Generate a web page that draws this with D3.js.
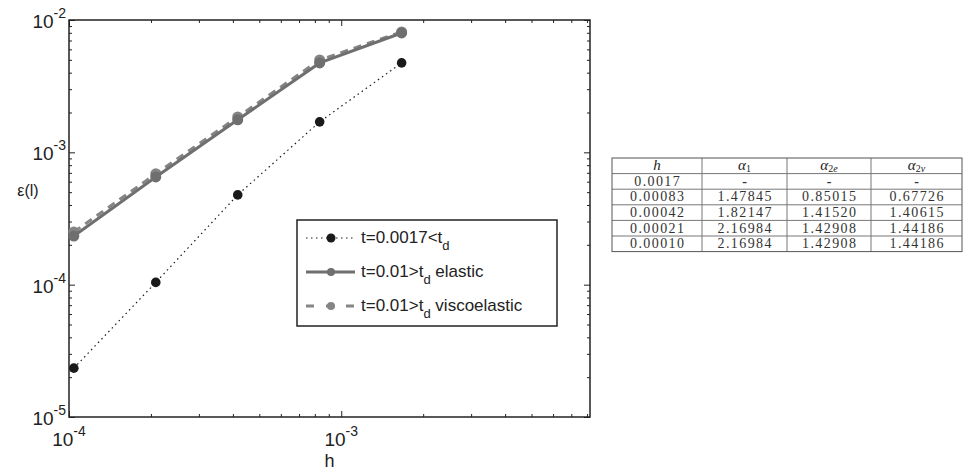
<!DOCTYPE html>
<html><head><meta charset="utf-8">
<script src="https://cdn.jsdelivr.net/npm/d3@7"></script>
<style>body{margin:0;background:#fff}svg{display:block}</style>
</head><body>
<svg id="c" width="966" height="470"></svg>
<script>
// ---- data ----
const hValues = [1/9600, 1/4800, 1/2400, 1/1200, 1/600];
const errSmallT = [2.34e-5, 1.04e-4, 4.77e-4, 1.70e-3, 4.74e-3];
const errElastic = [2.33e-4, 6.52e-4, 1.76e-3, 4.74e-3, 7.98e-3];
const errVisco = [2.50e-4, 6.88e-4, 1.85e-3, 4.99e-3, 8.13e-3];
const seriesNames = ["t=0.0017<t", "t=0.01>t", "t=0.01>t"];
const seriesSuffix = ["", " elastic", " viscoelastic"];
const xDomain = [1e-4, 8.2e-3];
const yDomain = [1e-5, 1e-2];
const xMajor = [1e-4, 1e-3];
const yMajor = [1e-5, 1e-4, 1e-3, 1e-2];
const tableHeader = [["h", ""], ["α", "1"], ["α", "2e"], ["α", "2v"]];
const tableH = ["0.0017", "0.00083", "0.00042", "0.00021", "0.00010"];
const tableA1 = ["-", "1.47845", "1.82147", "2.16984", "2.16984"];
const tableA2e = ["-", "0.85015", "1.41520", "1.42908", "1.42908"];
const tableA2v = ["-", "0.67726", "1.40615", "1.44186", "1.44186"];

const svg = d3.select("#c");
const L = 69, R = 590, T = 20, B = 417;
const x = d3.scaleLog().domain(xDomain).range([L, R]);
const y = d3.scaleLog().domain(yDomain).range([B, T]);
const sans = "'Liberation Sans', Arial, Helvetica, sans-serif";

function minors(domain) {
  const out = [];
  for (let e = -6; e <= -1; e++) for (let m = 2; m <= 9; m++) {
    const v = m * Math.pow(10, e);
    if (v > domain[0] * 1.0001 && v < domain[1] * 0.9999) out.push(v);
  }
  return out;
}
const xMin = minors(xDomain), yMin = minors(yDomain);

function ax(gen, vals, size, tr) {
  const g = svg.append("g").attr("transform", tr)
    .call(gen.tickValues(vals).tickSizeInner(size).tickSizeOuter(0).tickFormat(""));
  g.select(".domain").remove();
  g.selectAll("line").attr("stroke", "#222").attr("stroke-width", 1);
  return g;
}
ax(d3.axisBottom(x), xMin, -3, `translate(0,${B})`);
ax(d3.axisBottom(x), xMajor, -6, `translate(0,${B})`);
ax(d3.axisTop(x), xMin, -3, `translate(0,${T})`);
ax(d3.axisTop(x), xMajor, -6, `translate(0,${T})`);
ax(d3.axisLeft(y), yMin, -3, `translate(${L},0)`);
ax(d3.axisLeft(y), yMajor, -6, `translate(${L},0)`);
ax(d3.axisRight(y), yMin, -3, `translate(${R},0)`);
ax(d3.axisRight(y), yMajor, -6, `translate(${R},0)`);
svg.append("rect").attr("x", L).attr("y", T).attr("width", R - L).attr("height", B - T)
  .attr("fill", "none").attr("stroke", "#222").attr("stroke-width", 1.5);

function expLabel(sel, v) {
  const e = Math.round(Math.log10(v));
  sel.append("tspan").text("10");
  sel.append("tspan").attr("dy", -10).attr("font-size", 14).text("-" + Math.abs(e));
}
xMajor.forEach(v => {
  const t = svg.append("text").attr("x", x(v)).attr("y", 446).attr("text-anchor", "middle")
    .attr("font-family", sans).attr("font-size", 19).attr("fill", "#222");
  expLabel(t, v);
});
yMajor.forEach(v => {
  const t = svg.append("text").attr("x", 66).attr("y", y(v) + 8).attr("text-anchor", "end")
    .attr("font-family", sans).attr("font-size", 19).attr("fill", "#222");
  expLabel(t, v);
});
svg.append("text").attr("x", (L + R) / 2).attr("y", 467).attr("text-anchor", "middle")
  .attr("font-family", sans).attr("font-size", 18).attr("fill", "#222").text("h");
svg.append("text").attr("x", 28).attr("y", 196).attr("text-anchor", "middle")
  .attr("font-family", sans).attr("font-size", 16).attr("fill", "#222").text("ε(l)");

// series
const styles = [
  {data: errSmallT, color: "#1a1a1a", width: 1.2, dash: "1.5,3.5", r: 4.8},
  {data: errElastic, color: "#6f6f6f", width: 3, dash: null, r: 5.5},
  {data: errVisco, color: "#858585", width: 3, dash: "8,6", r: 5.5}
];
const line = d3.line().x(d => x(d[0])).y(d => y(d[1]));
[2, 1, 0].forEach(i => {
  const s = styles[i];
  const pts = hValues.map((h, k) => [h, s.data[k]]);
  svg.append("path").attr("d", line(pts)).attr("fill", "none").attr("stroke", s.color)
    .attr("stroke-width", s.width).attr("stroke-dasharray", s.dash);
  svg.append("g").selectAll("circle").data(pts).join("circle")
    .attr("cx", d => x(d[0])).attr("cy", d => y(d[1])).attr("r", s.r).attr("fill", s.color);
});

// legend
const lg = svg.append("g");
lg.append("rect").attr("x", 297).attr("y", 220).attr("width", 260).attr("height", 106)
  .attr("fill", "#fff").attr("stroke", "#222").attr("stroke-width", 1.5);
styles.forEach((s, i) => {
  const cy = 238 + i * 34;
  lg.append("line").attr("x1", 306).attr("x2", 355).attr("y1", cy).attr("y2", cy)
    .attr("stroke", s.color).attr("stroke-width", s.width).attr("stroke-dasharray", i === 2 ? "8,12" : s.dash);
  lg.append("circle").attr("cx", 331).attr("cy", cy).attr("r", i === 0 ? 4.5 : 4).attr("fill", s.color);
  const t = lg.append("text").attr("x", 361).attr("y", cy + 5).attr("font-family", sans)
    .attr("font-size", 17).attr("fill", "#222");
  t.append("tspan").text(seriesNames[i]);
  t.append("tspan").attr("dy", 7).attr("font-size", 13).text("d");
  t.append("tspan").attr("dy", -7).text(seriesSuffix[i]);
});

// table
const serif = "'Liberation Serif','DejaVu Serif',serif";
const colX = [612, 702, 787, 871, 962];
const rowTop = 158, rowH = 15.6;
const rows = tableH.map((h, i) => [h, tableA1[i], tableA2e[i], tableA2v[i]]);
const tg = svg.append("g");
const nRows = rows.length + 1;
d3.range(1, nRows).forEach(r => tg.append("line").attr("x1", colX[0]).attr("x2", colX[4])
  .attr("y1", rowTop + r * rowH).attr("y2", rowTop + r * rowH).attr("stroke", "#777").attr("stroke-width", 1));
colX.slice(1, 4).forEach(cx => tg.append("line").attr("x1", cx).attr("x2", cx)
  .attr("y1", rowTop).attr("y2", rowTop + nRows * rowH).attr("stroke", "#777").attr("stroke-width", 1));
tg.append("rect").attr("x", colX[0]).attr("y", rowTop).attr("width", colX[4] - colX[0])
  .attr("height", nRows * rowH).attr("fill", "none").attr("stroke", "#555").attr("stroke-width", 1);
tableHeader.forEach((hd, c) => {
  const t = tg.append("text").attr("x", (colX[c] + colX[c + 1]) / 2).attr("y", rowTop + rowH - 3.5)
    .attr("text-anchor", "middle").attr("font-family", serif).attr("font-size", 15).attr("fill", "#222");
  t.append("tspan").attr("font-style", "italic").text(hd[0]);
  if (hd[1]) {
    t.append("tspan").attr("dy", 2).attr("font-size", 10).text(hd[1][0]);
    if (hd[1].length > 1) t.append("tspan").attr("font-size", 10).attr("font-style", "italic").text(hd[1].slice(1));
  }
});
rows.forEach((row, r) => row.forEach((v, c) => {
  tg.append("text").attr("x", (colX[c] + colX[c + 1]) / 2 + 0.7).attr("y", rowTop + (r + 2) * rowH - 3.5)
    .attr("text-anchor", "middle").attr("font-family", serif).attr("font-size", 14)
    .attr("letter-spacing", 1.4).attr("fill", "#333")
    .attr("font-weight", v === "-" ? "bold" : "normal").text(v);
}));
</script>
</body></html>
